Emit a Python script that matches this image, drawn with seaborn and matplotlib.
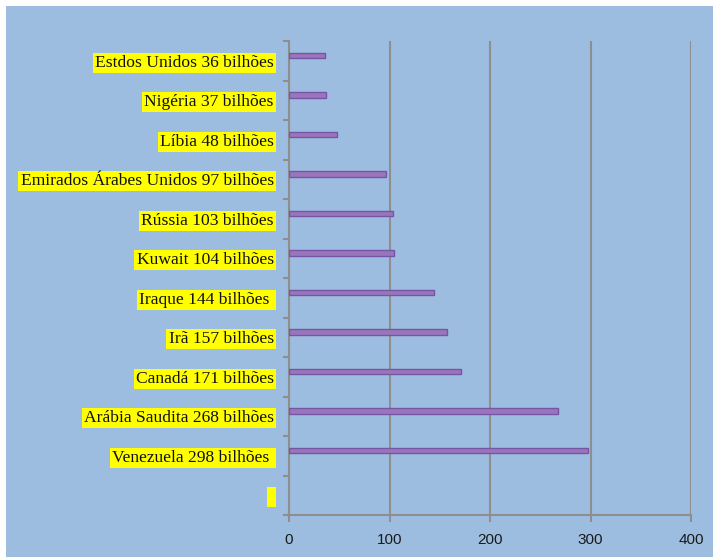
import matplotlib
matplotlib.use("Agg")
import matplotlib.pyplot as plt
import seaborn as sns
import pandas as pd
from matplotlib.patches import Rectangle
from matplotlib.ticker import FixedLocator

categories = [
    "Estdos Unidos 36 bilhões",
    "Nigéria 37 bilhões",
    "Líbia 48 bilhões",
    "Emirados Árabes Unidos 97 bilhões",
    "Rússia 103 bilhões",
    "Kuwait 104 bilhões",
    "Iraque 144 bilhões ",
    "Irã 157 bilhões",
    "Canadá 171 bilhões",
    "Arábia Saudita 268 bilhões",
    "Venezuela 298 bilhões ",
    " ",
]
values = [36, 37, 48, 97, 103, 104, 144, 157, 171, 268, 298, float("nan")]
series = ["Série 1"] * len(categories)
series_order = ["Série 1", "Série 2", "Série 3"]
x_ticks = [0, 100, 200, 300, 400]

BG = "#9dbde0"
GRID = "#8e8e8e"
BAR = "#9a6ac6"
BAR_EDGE = "#7654a6"

sns.set_theme(style="white")
plt.rcParams["font.family"] = ["Liberation Serif", "DejaVu Serif"]

df = pd.DataFrame({"cat": categories, "val": values, "serie": series})

fig = plt.figure(figsize=(7.13, 5.57), dpi=100, facecolor="white")
fig.patches.append(Rectangle((6 / 713, 0), 1 - 6 / 713, 1 - 6 / 557,
                             transform=fig.transFigure, facecolor=BG,
                             edgecolor="none", zorder=-10))
ax = fig.add_axes([289 / 713, 1 - 515 / 557, (691 - 289) / 713, (515 - 41) / 557])
ax.set_facecolor(BG)

sns.barplot(data=df, x="val", y="cat", hue="serie", hue_order=series_order,
            order=categories, orient="h", width=0.4, dodge=True,
            palette={s: BAR for s in series_order}, edgecolor=BAR_EDGE,
            linewidth=1.0, legend=False, ax=ax, zorder=3)

ax.set_xlim(0, 400)
ax.set_ylim(len(categories) - 0.5, -0.5)
ax.set_xticks(x_ticks)
ax.set_xticklabels([str(t) for t in x_ticks], fontfamily="Liberation Sans",
                   fontsize=11, color="#1a1a1a")
ax.grid(axis="x", color=GRID, linewidth=1.5, zorder=1)
ax.grid(axis="y", visible=False)
ax.set_axisbelow(True)

ax.set_xlabel("")
ax.set_ylabel("")

for side in ["top", "right"]:
    ax.spines[side].set_visible(False)
for side in ["left", "bottom"]:
    ax.spines[side].set_color(GRID)
    ax.spines[side].set_linewidth(1.5)

ax.tick_params(axis="x", which="major", direction="out", length=5, width=1.5,
               color=GRID, pad=8, bottom=True)
ax.tick_params(axis="y", which="major", length=0, pad=11, labelsize=12.6,
               left=True)
ax.yaxis.set_minor_locator(FixedLocator([i - 0.5 for i in range(len(categories) + 1)]))
ax.tick_params(axis="y", which="minor", direction="out", length=4, width=1.5,
               color=GRID, left=True)

for lbl in ax.get_yticklabels():
    lbl.set_fontsize(12.6)
    lbl.set_color("#111111")
    lbl.set_bbox(dict(boxstyle="square,pad=0.12", facecolor="#ffff00",
                      edgecolor="none"))

fig.savefig("out.png", dpi=100, facecolor=fig.get_facecolor())
